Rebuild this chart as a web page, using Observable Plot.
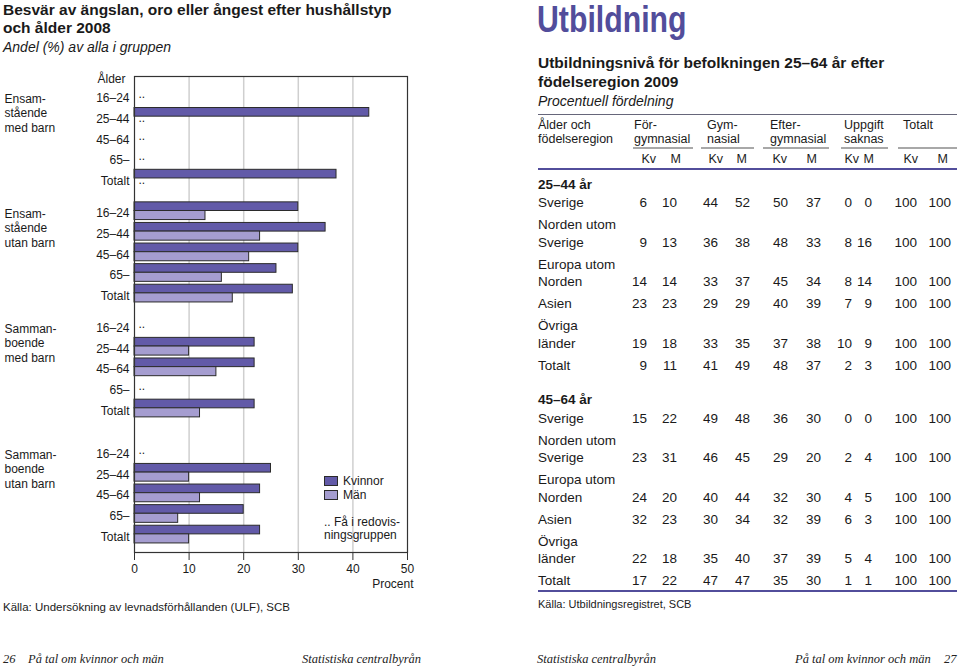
<!DOCTYPE html>
<html><head><meta charset="utf-8">
<script src="https://cdn.jsdelivr.net/npm/d3@7"></script>
<script src="https://cdn.jsdelivr.net/npm/@observablehq/plot@0.6"></script>
<style>
body{margin:0;background:#fff;font-family:"Liberation Sans",Arial,Helvetica,sans-serif;color:#1a1a1a;}
#page{position:relative;width:960px;height:670px;overflow:hidden;background:#fff;}
.abs{position:absolute;white-space:nowrap;}
.serif{font-family:"Liberation Serif","Times New Roman",serif;font-style:italic;font-size:12.5px;line-height:16px;top:651px;color:#222;}
#chart{position:absolute;left:0;top:56px;}
.sw{position:absolute;width:14px;height:10px;box-sizing:border-box;border:1px solid #2b2b2b;}
#tbl{position:absolute;left:538px;top:114px;width:419px;border-collapse:collapse;table-layout:fixed;font-size:13.5px;color:#1a1a1a;border-top:1.5px solid #66667a;}
#tbl td{padding:0;white-space:pre;line-height:17.5px;vertical-align:bottom;}
#tbl td.num{text-align:right;}
#tbl tr.h1 td{font-size:12.5px;line-height:14px;vertical-align:top;padding-top:3px;}
#tbl .u{border-bottom:2px solid #a8a8a8;padding-bottom:1px;height:28px;}
#tbl tr.h2 td{font-size:12.5px;line-height:14px;padding-top:2.5px;padding-bottom:2px;border-bottom:2px solid #524d9b;}
#tbl tr.sec td{font-weight:bold;}
#tbl tr.d td{padding-top:4.5px;}
#tbl tr.first td{padding-top:1px;}
#tbl tr.last td{border-bottom:2px solid #524d9b;}
</style></head>
<body><div id="page">
<div class="abs" style="left:3px;top:0.5px;font-size:15.5px;font-weight:bold;line-height:18.5px;">Besvär av ängslan, oro eller ångest efter hushållstyp<br>och ålder 2008</div>
<div class="abs" style="left:3px;top:38px;font-size:14px;font-style:italic;line-height:18px;">Andel (%) av alla i gruppen</div>
<div id="chart"></div>
<div id="legend"></div>
<div class="abs" style="left:3px;top:601px;font-size:11.5px;line-height:13px;">Källa: Undersökning av levnadsförhållanden (ULF), SCB</div>

<div class="abs" style="left:537px;top:2.2px;font-size:36px;font-weight:bold;line-height:36px;color:#524d9b;transform:scaleX(0.84);transform-origin:0 0;">Utbildning</div>
<div class="abs" style="left:538px;top:52.5px;font-size:15.5px;font-weight:bold;line-height:19px;">Utbildningsnivå för befolkningen 25–64 år efter<br>födelseregion 2009</div>
<div class="abs" style="left:538px;top:92px;font-size:14px;font-style:italic;line-height:18px;">Procentuell fördelning</div>
<table id="tbl"></table>
<div class="abs" style="left:538px;top:597.5px;font-size:11px;line-height:13px;">Källa: Utbildningsregistret, SCB</div>

<div class="abs serif" style="left:3px;">26</div>
<div class="abs serif" style="left:28px;">På tal om kvinnor och män</div>
<div class="abs serif" style="left:302px;">Statistiska centralbyrån</div>
<div class="abs serif" style="left:537px;">Statistiska centralbyrån</div>
<div class="abs serif" style="left:795px;">På tal om kvinnor och män</div>
<div class="abs serif" style="left:944px;">27</div>
</div>
<script>
// ---------- Left chart data ----------
const groupLabels = ["Ensam-\nstående\nmed barn", "Ensam-\nstående\nutan barn", "Samman-\nboende\nmed barn", "Samman-\nboende\nutan barn"];
const ageLabels = ["16–24", "25–44", "45–64", "65–", "Totalt"];
const kvinnor = [
  [null, 43, null, null, 37],
  [30, 35, 30, 26, 29],
  [null, 22, 22, null, 22],
  [null, 25, 23, 20, 23]
];
const man = [
  [null, null, null, null, null],
  [13, 23, 21, 16, 18],
  [null, 10, 15, null, 12],
  [null, 10, 12, 8, 10]
];
const sexes = ["Kvinnor", "Män"];
const xTicks = [0, 10, 20, 30, 40, 50];
const missingNote = ".. Få i redovis-\nningsgruppen";

// ---------- Right table data ----------
const eduLevels = ["För-\ngymnasial", "Gym-\nnasial", "Efter-\ngymnasial", "Uppgift\nsaknas", "Totalt"];
const subCols = ["Kv", "M"];
const regions = ["Sverige", "Norden utom\nSverige", "Europa utom\nNorden", "Asien", "Övriga\nländer", "Totalt"];
const ageGroupsT = ["25–44 år", "45–64 år"];
const tbl2544 = [
  [6, 10, 44, 52, 50, 37, 0, 0, 100, 100],
  [9, 13, 36, 38, 48, 33, 8, 16, 100, 100],
  [14, 14, 33, 37, 45, 34, 8, 14, 100, 100],
  [23, 23, 29, 29, 40, 39, 7, 9, 100, 100],
  [19, 18, 33, 35, 37, 38, 10, 9, 100, 100],
  [9, 11, 41, 49, 48, 37, 2, 3, 100, 100]
];
const tbl4564 = [
  [15, 22, 49, 48, 36, 30, 0, 0, 100, 100],
  [23, 31, 46, 45, 29, 20, 2, 4, 100, 100],
  [24, 20, 40, 44, 32, 30, 4, 5, 100, 100],
  [32, 23, 30, 34, 32, 39, 6, 3, 100, 100],
  [22, 18, 35, 40, 37, 39, 5, 4, 100, 100],
  [17, 22, 47, 47, 35, 30, 1, 1, 100, 100]
];

// ---------- styles ----------
const colors = ["#625aa8", "#a59dd0"];

// ---------- layout of rows (in row units) ----------
const groupGapRows = [0, 0.58, 0.58, 1.12];
let cursor = 0;
const rows = [];
groupLabels.forEach((g, gi) => {
  cursor += groupGapRows[gi];
  ageLabels.forEach((a, ai) => {
    rows.push({gi, group: g, age: a, pos: cursor, kv: kvinnor[gi][ai], m: man[gi][ai]});
    cursor += 1;
  });
});
const groupRows = rows.filter((r, i) => i % ageLabels.length === 0);
const bars = [];
rows.forEach(r => {
  if (r.kv != null) bars.push({sex: "Kvinnor", value: r.kv, pos: r.pos});
  if (r.m != null) bars.push({sex: "Män", value: r.m, pos: r.pos});
});
const half = {"Kvinnor": [-0.54, -0.12], "Män": [-0.12, 0.32]};
const dots = [];
rows.forEach(r => {
  if (r.kv == null && r.m == null) dots.push({pos: r.pos});
  else if (r.m == null) dots.push({pos: r.pos + 0.16});
});

const chart = Plot.plot({
  width: 480, height: 540,
  marginTop: 20, marginBottom: 44, marginLeft: 134, marginRight: 73,
  style: {fontFamily: "Liberation Sans, Arial, sans-serif", fontSize: "12px", color: "#1a1a1a", background: "transparent", overflow: "visible"},
  x: {domain: [0, 50], label: null},
  y: {domain: [-1.07, 22.04], reverse: true, axis: null},
  color: {domain: sexes, range: colors},
  marks: [
    Plot.gridX(xTicks.slice(1, -1), {stroke: "#cfcfcf", strokeOpacity: 1, strokeWidth: 1.5}),
    Plot.rect(bars, {
      x1: () => 0, x2: "value",
      y1: d => d.pos + half[d.sex][0], y2: d => d.pos + half[d.sex][1],
      fill: "sex", stroke: "#2b2b2b", strokeWidth: 1
    }),
    Plot.text(dots, {x: () => 0, y: "pos", text: () => "..", dx: 4, dy: -4, textAnchor: "start", fontSize: 12}),
    Plot.text(rows, {x: () => 0, y: "pos", text: "age", dx: -5, textAnchor: "end", fontSize: 12}),
    Plot.text(groupRows, {frameAnchor: "left", y: "pos", text: "group", dx: -130, dy: -6, textAnchor: "start", lineAnchor: "top", lineHeight: 1.21, fontSize: 12}),
    Plot.text(["Ålder"], {frameAnchor: "top-left", dx: -9, dy: -2, textAnchor: "end", fontSize: 12}),
    Plot.frame({stroke: "#333", strokeWidth: 1.2}),
    Plot.axisX({ticks: xTicks, tickSize: 8, tickPadding: 4, label: null, fontSize: 12, stroke: "#333"}),
    Plot.text(["Procent"], {frameAnchor: "bottom-right", dx: 6, dy: 35.5, textAnchor: "end", fontSize: 12})
  ]
});
document.getElementById("chart").append(chart);

// legend (HTML, from the color scale)
const cs = chart.scale("color");
const leg = document.getElementById("legend");
const legTop = [476, 490];
cs.domain.forEach((s, i) => {
  const sw = document.createElement("div");
  sw.className = "sw";
  sw.style.left = "324px"; sw.style.top = legTop[i] + "px";
  sw.style.background = cs.range[i];
  leg.append(sw);
  const t = document.createElement("div");
  t.className = "abs";
  t.style.cssText = `left:343px;top:${legTop[i] - 2.5}px;font-size:12px;line-height:15px;`;
  t.textContent = s;
  leg.append(t);
});
const note = document.createElement("div");
note.className = "abs";
note.style.cssText = "left:324px;top:516px;font-size:12px;line-height:12.5px;white-space:pre;";
note.textContent = missingNote;
leg.append(note);

// ---------- table ----------
const tbl = document.getElementById("tbl");
const colW = [82, 27, 30, 41, 32, 38, 33, 31, 20, 45, 34, 6];
const cg = document.createElement("colgroup");
colW.forEach(w => { const c = document.createElement("col"); c.style.width = w + "px"; cg.append(c); });
tbl.append(cg);
function td(tr, text, cls, span) {
  const c = document.createElement("td");
  if (cls) c.className = cls;
  if (span) c.colSpan = span;
  if (text != null) c.textContent = text;
  tr.append(c); return c;
}
// header row 1
const h1 = document.createElement("tr"); h1.className = "h1";
td(h1, "Ålder och\nfödelseregion");
const hdrLine = [[13, -16, 1], [24, -4, 6], [13, -8, 7], [20, -16, 3], [26, 0, 5]];
eduLevels.forEach((e, i) => {
  const c = td(h1, null, null, i === eduLevels.length - 1 ? 3 : 2);
  const u = document.createElement("div");
  u.className = "u";
  u.style.marginLeft = hdrLine[i][0] + "px";
  u.style.marginRight = hdrLine[i][1] + "px";
  u.style.paddingLeft = hdrLine[i][2] + "px";
  u.textContent = e;
  c.append(u);
});
tbl.append(h1);
// header row 2
const h2 = document.createElement("tr"); h2.className = "h2";
td(h2, "");
const subShift = [9, 4, 5, -3, -1, -4, 7, 2, 1, -3];
for (let i = 0; i < 10; i++) {
  const c = td(h2, null, "num");
  const s = document.createElement("span");
  s.style.position = "relative"; s.style.left = subShift[i] + "px";
  s.textContent = subCols[i % 2];
  c.append(s);
}
td(h2, "");
tbl.append(h2);
// body
[tbl2544, tbl4564].forEach((data, si) => {
  const sec = document.createElement("tr"); sec.className = "sec";
  const sc = td(sec, ageGroupsT[si], null, 12);
  sc.style.paddingTop = si === 0 ? "6px" : "17px";
  tbl.append(sec);
  regions.forEach((r, ri) => {
    const tr = document.createElement("tr");
    tr.className = "d" + (ri === 0 ? " first" : "") + (si === 1 && ri === regions.length - 1 ? " last" : "");
    td(tr, r);
    data[ri].forEach(v => td(tr, String(v), "num"));
    td(tr, "");
    tbl.append(tr);
  });
});
</script>
</body></html>
